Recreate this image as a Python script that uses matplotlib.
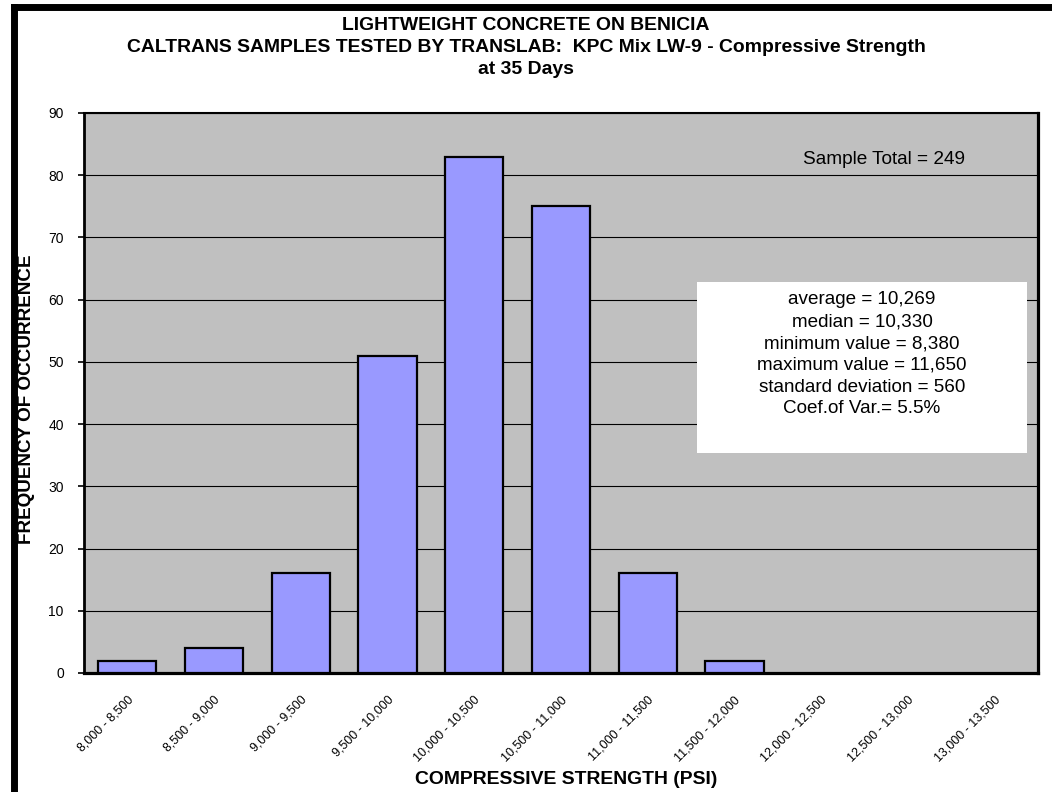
import matplotlib
matplotlib.use("Agg")
import matplotlib.pyplot as plt
import matplotlib.transforms as mtransforms
from matplotlib.lines import Line2D
from matplotlib.patches import Rectangle

plt.rcParams['font.family'] = ['Liberation Sans', 'DejaVu Sans']

categories = ["8,000 - 8,500", "8,500 - 9,000", "9,000 - 9,500", "9,500 - 10,000",
              "10,000 - 10,500", "10,500 - 11,000", "11,000 - 11,500", "11,500 - 12,000",
              "12,000 - 12,500", "12,500 - 13,000", "13,000 - 13,500"]
counts = [2, 4, 16, 51, 83, 75, 16, 2, 0, 0, 0]
yticks = list(range(0, 100, 10))

title_lines = ["LIGHTWEIGHT CONCRETE ON BENICIA",
               "CALTRANS SAMPLES TESTED BY TRANSLAB:  KPC Mix LW-9 - Compressive Strength",
               "at 35 Days"]
stats_lines = ["average = 10,269", "median = 10,330", "minimum value = 8,380",
               "maximum value = 11,650", "standard deviation = 560", "Coef.of Var.= 5.5%"]
sample_total = "Sample Total = 249"
xlabel = "COMPRESSIVE STRENGTH (PSI)"
ylabel = "FREQUENCY OF OCCURRENCE"

W, H = 1052, 792
fig = plt.figure(figsize=(W / 100, H / 100), dpi=100)
fig.patch.set_facecolor('white')
renderer = fig.canvas.get_renderer()


def fit_size(text, target_px, weight='normal', base=10.0):
    t = fig.text(0, 0, text, fontsize=base, fontweight=weight)
    w = t.get_window_extent(renderer).width
    t.remove()
    return base * target_px / w


def fy(py):
    return 1 - py / H


# figure frame (thick black border at left and top)
fig.add_artist(Line2D([13.5 / W, 13.5 / W], [0, fy(6.5)], color='black', lw=5,
                      transform=fig.transFigure, solid_capstyle='projecting'))
fig.add_artist(Line2D([13.5 / W, 1.0], [fy(6.5), fy(6.5)], color='black', lw=5,
                      transform=fig.transFigure, solid_capstyle='projecting'))

left, right, top, bottom = 84, 1038, 113, 673
ax = fig.add_axes([left / W, fy(bottom), (right - left) / W, (bottom - top) / H])
ax.set_facecolor('#C0C0C0')

x = list(range(len(categories)))
lws = [1.6 if c > 0 else 0 for c in counts]
ax.bar(x, counts, width=0.67, color='#9999FF', edgecolor='black', linewidth=lws, zorder=3)

ax.set_xlim(-0.5, len(categories) - 0.5)
ax.set_ylim(0, 90)
ax.set_yticks(yticks)
ax.set_yticklabels([str(v) for v in yticks], fontsize=10)
ax.yaxis.grid(True, color='black', linewidth=0.8, zorder=0)
ax.set_axisbelow(True)
ax.tick_params(axis='y', direction='out', length=4, width=1.2, pad=10.5)

xt_size = fit_size("8,000 - 8,500", 74)
ax.set_xticks(x)
ax.set_xticklabels(categories, rotation=45, ha='right', va='center',
                   rotation_mode='anchor', fontsize=xt_size)
ax.tick_params(axis='x', length=0, pad=18)
offset = mtransforms.ScaledTranslation(4 / 100, 0, fig.dpi_scale_trans)
for lab in ax.get_xticklabels():
    lab.set_transform(lab.get_transform() + offset)

ax.spines['left'].set_linewidth(2.0)
ax.spines['top'].set_linewidth(1.5)
ax.spines['bottom'].set_linewidth(2.3)
ax.spines['right'].set_linewidth(2.3)

# stats box
bx0, bx1, by0, by1 = 697, 1027, 282, 453
fig.add_artist(Rectangle((bx0 / W, fy(by1)), (bx1 - bx0) / W, fy(by0) - fy(by1),
                         transform=fig.transFigure, facecolor='white', edgecolor='none',
                         zorder=4))
st_size = fit_size(stats_lines[0], 148)
for i, line in enumerate(stats_lines):
    fig.text(862 / W, fy(298 + 21.8 * i), line, ha='center', va='center_baseline',
             fontsize=st_size, zorder=5)

fig.text(884 / W, fy(158), sample_total, ha='center', va='center_baseline',
         fontsize=fit_size(sample_total, 163), zorder=5)

ttl_size = fit_size(title_lines[1], 800, weight='bold')
for i, line in enumerate(title_lines):
    fig.text(526 / W, fy(24 + 22 * i), line, ha='center', va='center_baseline',
             fontsize=ttl_size, fontweight='bold')

fig.text(27 / W, fy(399), ylabel, rotation=90, ha='center', va='center',
         fontsize=fit_size(ylabel, 290, weight='bold'), fontweight='bold')
fig.text(566 / W, fy(778), xlabel, ha='center', va='center_baseline',
         fontsize=fit_size(xlabel, 302, weight='bold'), fontweight='bold')

fig.savefig('out.png', dpi=100)
